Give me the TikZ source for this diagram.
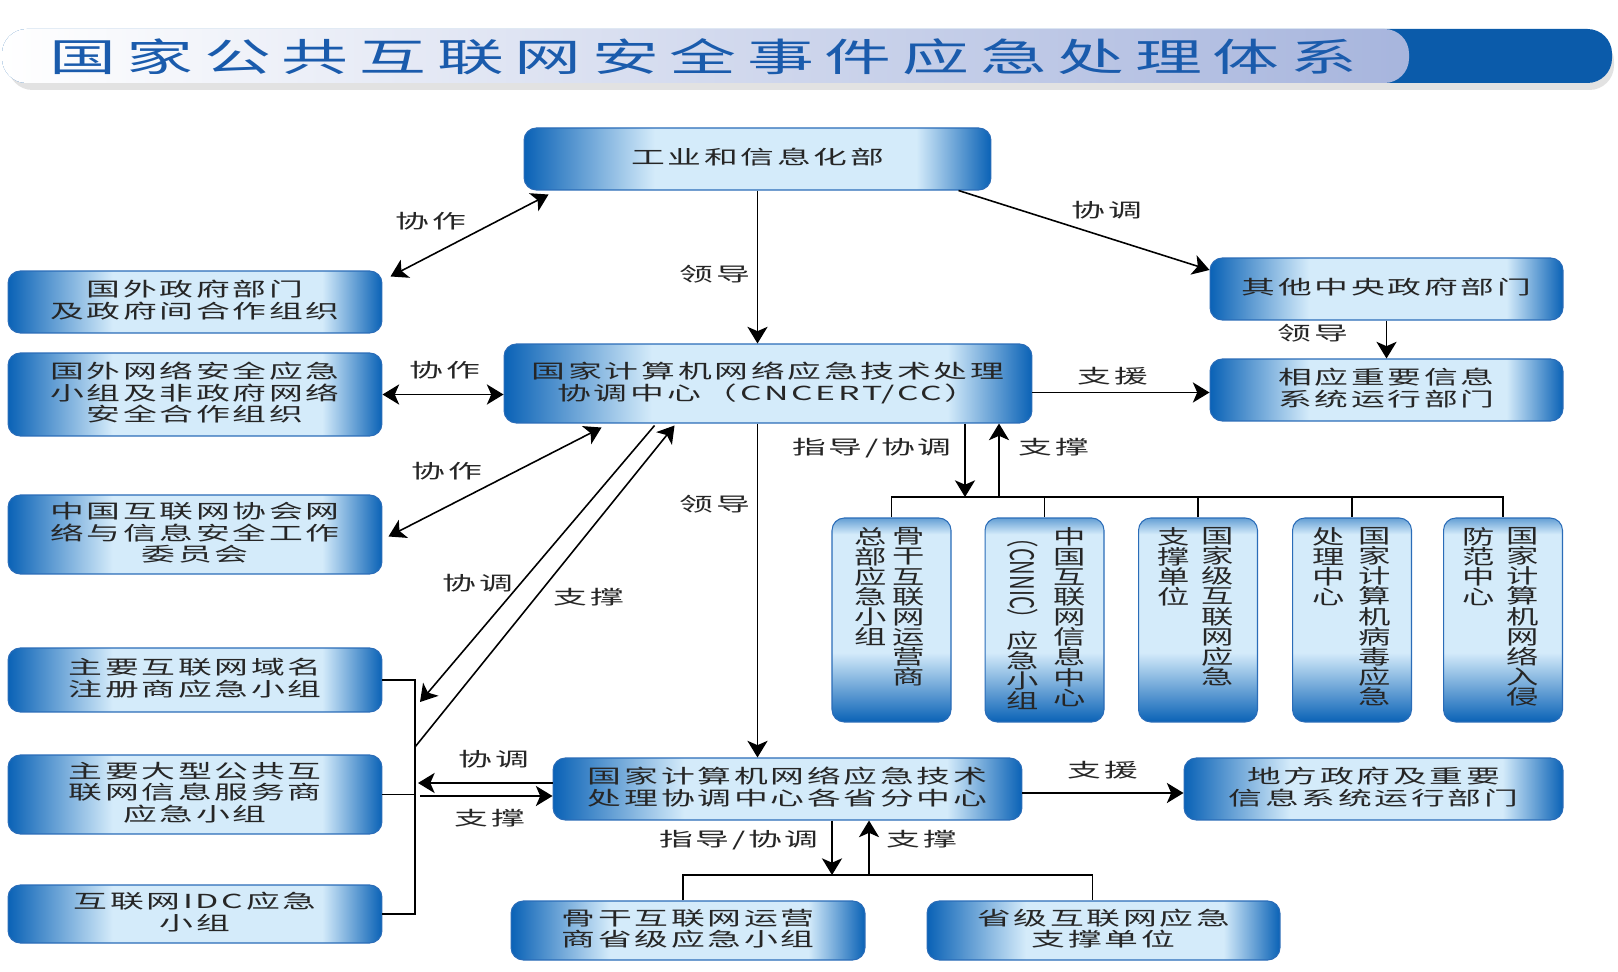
\documentclass[tikz,border=0pt]{standalone}
\usepackage{fontspec}
\usepackage{graphicx}
\setmainfont{Noto Sans CJK SC}[LetterSpace=8]
\newfontfamily\titlefont{Noto Sans CJK SC}[LetterSpace=16]
\newfontfamily\vfont{Noto Sans CJK SC}
\usetikzlibrary{positioning, arrows.meta, calc}
\definecolor{boxdark}{HTML}{0A62B6}
\definecolor{boxlight}{HTML}{D4EBFA}
\definecolor{boxline}{HTML}{2A6CB8}
\definecolor{titleblue}{HTML}{1A5BAC}
\definecolor{titlelav}{HTML}{A7B5DD}
\definecolor{titledark}{HTML}{0B5BAA}
\definecolor{txt}{HTML}{262626}
\pgfdeclarehorizontalshading{boxshade}{100bp}{color(0bp)=(boxdark); color(25bp)=(boxdark); color(39bp)=(boxlight); color(67bp)=(boxlight); color(75bp)=(boxdark); color(100bp)=(boxdark)}
\pgfdeclareverticalshading{tallshade}{100bp}{color(0bp)=(boxdark); color(25bp)=(boxdark); color(42bp)=(boxlight); color(71bp)=(boxlight); color(75bp)=(boxdark!55!boxlight); color(100bp)=(boxdark!55!boxlight)}
% wide text as in the picture
\newcommand\boxtext[1]{\scalebox{1.75}[1]{\begin{tabular}{@{}c@{}}#1\end{tabular}}}
\newcommand\coltext[1]{\scalebox{1.6}[1]{\vbox{\baselineskip=11.4pt\lineskiplimit=-20pt\lineskip=1pt\let\\\cr\halign{\hfil##\hfil\cr#1\crcr}}}}

\begin{document}
\begin{tikzpicture}[
  x=0.02cm, y=-0.02cm,
  box/.style={
    draw=boxline, line width=0.6pt, rounded corners=7pt, shade, shading=boxshade,
    align=center, text=txt, inner sep=0pt, font=\fontsize{11}{10}\selectfont
  },
  tallbox/.style={box, shading=tallshade, minimum width=2.38cm, minimum height=4.08cm},
  vcol/.style={font=\vfont\fontsize{11.5}{11.4}\selectfont, anchor=north, inner sep=0pt, text=txt},
  lab/.style={font=\fontsize{11}{10}\selectfont, text=txt, inner sep=1pt},
  arr/.style={-{Stealth[length=9.5pt, width=11.5pt, inset=2.5pt]}, line width=0.9pt},
  darr/.style={{Stealth[length=9.5pt, width=11.5pt, inset=2.5pt]}-{Stealth[length=9.5pt, width=11.5pt, inset=2.5pt]}, line width=0.9pt},
  thinl/.style={line width=0.8pt}
]
  \fill[white] (0,0) rectangle (1618,972);
  \useasboundingbox (0,0) rectangle (1618,972);

  % title bar
  \fill[gray!45, opacity=.5, rounded corners=14pt] (8,37) rectangle (1614,90);
  \fill[titledark, rounded corners=14pt] (2,29) rectangle (1612,83);
  \shade[left color=white, right color=titlelav, rounded corners=14pt] (2,29) rectangle (1409,83);
  \node[anchor=west, text=titleblue, inner sep=0pt, font=\titlefont\fontsize{22}{24}\selectfont] (title) at (49,57) {\scalebox{1.73}[1]{国家公共互联网安全事件应急处理体系}};

  % boxes
  \node[box, minimum width=9.34cm, minimum height=1.24cm] (mii) at (757.5,159) {\boxtext{工业和信息化部}};
  \node[box, minimum width=7.48cm, minimum height=1.24cm] (fgov) at (195,302) {\boxtext{国外政府部门\\及政府间合作组织}};
  \node[box, minimum width=7.06cm, minimum height=1.24cm] (ocgov) at (1386.5,289) {\boxtext{其他中央政府部门}};
  \node[box, minimum width=7.48cm, minimum height=1.66cm] (fcert) at (195,394.5) {\boxtext{国外网络安全应急\\小组及非政府网络\\安全合作组织}};
  \node[box, minimum width=10.56cm, minimum height=1.58cm] (cncert) at (768,383.5) {\boxtext{国家计算机网络应急技术处理\\协调中心（CNCERT/CC）}};
  \node[box, minimum width=7.06cm, minimum height=1.24cm] (rel) at (1386.5,390) {\boxtext{相应重要信息\\系统运行部门}};
  \node[box, minimum width=7.48cm, minimum height=1.58cm] (isc) at (195,534.5) {\boxtext{中国互联网协会网\\络与信息安全工作\\委员会}};
  \node[box, minimum width=7.48cm, minimum height=1.28cm] (dns) at (195,680) {\boxtext{主要互联网域名\\注册商应急小组}};
  \node[box, minimum width=7.48cm, minimum height=1.58cm] (isp) at (195,794.5) {\boxtext{主要大型公共互\\联网信息服务商\\应急小组}};
  \node[box, minimum width=7.48cm, minimum height=1.16cm] (idc) at (195,914) {\boxtext{互联网IDC应急\\小组}};
  \node[box, minimum width=9.38cm, minimum height=1.24cm] (prov) at (787.5,789) {\boxtext{国家计算机网络应急技术\\处理协调中心各省分中心}};
  \node[box, minimum width=7.58cm, minimum height=1.24cm] (local) at (1373.5,789) {\boxtext{地方政府及重要\\信息系统运行部门}};
  \node[box, minimum width=7.08cm, minimum height=1.18cm] (bb) at (688,930.5) {\boxtext{骨干互联网运营\\商省级应急小组}};
  \node[box, minimum width=7.06cm, minimum height=1.18cm] (pisp) at (1103.5,930.5) {\boxtext{省级互联网应急\\支撑单位}};

  % tall boxes, text in columns
  \node[tallbox] (v1) at (891.5,620) {};
  \node[tallbox] (v2) at (1044.5,620) {};
  \node[tallbox] (v3) at (1198,620) {};
  \node[tallbox] (v4) at (1352,620) {};
  \node[tallbox] (v5) at (1503,620) {};
  \node[vcol] (v1r) at ($(v1.north)+(17,10)$) {\coltext{骨\\干\\互\\联\\网\\运\\营\\商}};
  \node[vcol] (v1l) at ($(v1.north)+(-21,10)$) {\coltext{总\\部\\应\\急\\小\\组}};
  \node[vcol] (v2r) at ($(v2.north)+(25,10)$) {\coltext{中\\国\\互\\联\\网\\信\\息\\中\\心}};
  \node[vcol] (v2l) at ($(v2.north)+(-22,10)$) {\coltext{\rotatebox{-90}{（CNNIC）}\\应\\急\\小\\组}};
  \node[vcol] (v3r) at ($(v3.north)+(20,10)$) {\coltext{国\\家\\级\\互\\联\\网\\应\\急}};
  \node[vcol] (v3l) at ($(v3.north)+(-24,10)$) {\coltext{支\\撑\\单\\位}};
  \node[vcol] (v4r) at ($(v4.north)+(23,10)$) {\coltext{国\\家\\计\\算\\机\\病\\毒\\应\\急}};
  \node[vcol] (v4l) at ($(v4.north)+(-23,10)$) {\coltext{处\\理\\中\\心}};
  \node[vcol] (v5r) at ($(v5.north)+(20,10)$) {\coltext{国\\家\\计\\算\\机\\网\\络\\入\\侵}};
  \node[vcol] (v5l) at ($(v5.north)+(-24,10)$) {\coltext{防\\范\\中\\心}};

  % connectors
  \draw[arr] (mii.south) -- (mii.south |- cncert.north);
  \draw[arr] (mii.south |- cncert.south) -- (mii.south |- prov.north);
  \draw[darr] ($(mii.south west)+(25,4)$) -- ($(fgov.north east)+(8,6)$);
  \draw[arr] ($(mii.south east)+(-33,0)$) -- ($(ocgov.west)+(0,-19)$);
  \draw[arr] (ocgov.south) -- (rel.north);
  \draw[arr] ($(cncert.east)+(0,9)$) -- ($(rel.west)+(0,2.5)$);
  \draw[darr] (fcert.east) -- (fcert.east -| cncert.west);
  \draw[darr] ($(cncert.south west)+(98,4)$) -- ($(isc.east)+(6,2)$);

  \coordinate (busA) at (965,497);
  \coordinate (busB) at (999,497);
  \draw[arr] (cncert.south -| busA) -- (busA);
  \draw[arr] (busB) -- (cncert.south -| busB);
  \draw[thinl] (v1.north) |- (busA) -| (v5.north);
  \foreach \i in {2,3,4} \draw[thinl] (v\i.north) -- (v\i.north |- busA);

  \coordinate (brx) at (415,0);
  \draw[thinl] (dns.east) -- (dns.east -| brx) -- (idc.east -| brx) -- (idc.east);
  \draw[thinl] (isp.east) -- (isp.east -| brx);
  \draw[arr] ($(cncert.south west)+(151,2)$) -- ($(dns.east -| brx)+(5,22)$);
  \draw[arr] ($(dns.east -| brx)+(0,67)$) -- ($(cncert.south west)+(171,2)$);
  \draw[arr] ($(prov.west)+(0,-6)$) -- ($(prov.west -| brx)+(3,-6)$);
  \draw[arr] ($(prov.west -| brx)+(5,7)$) -- ($(prov.west)+(0,7)$);
  \draw[arr] ($(prov.east)+(0,4)$) -- ($(local.west)+(0,4)$);

  \coordinate (busC) at (832,875);
  \coordinate (busD) at (869,875);
  \draw[arr] (prov.south -| busC) -- (busC);
  \draw[arr] (busD) -- (prov.south -| busD);
  \draw[thinl] ($(bb.north)+(-5,0)$) |- (busC) -| ($(pisp.north)+(-11,0)$);

  % labels
  \node[lab] (lLead1) at (715,276) {\boxtext{领导}};
  \node[lab] (lCoop1) at (431,223) {\boxtext{协作}};
  \node[lab] (lCoor1) at (1107,212) {\boxtext{协调}};
  \node[lab] (lLead2) at (1313,335) {\boxtext{领导}};
  \node[lab] (lAid1) at (1113,378) {\boxtext{支援}};
  \node[lab] (lCoop2) at (445,372) {\boxtext{协作}};
  \node[lab] (lGuide1) at (872,449) {\boxtext{指导/协调}};
  \node[lab] (lSup1) at (1054,449) {\boxtext{支撑}};
  \node[lab] (lLead3) at (715,506) {\boxtext{领导}};
  \node[lab] (lCoop3) at (447,473) {\boxtext{协作}};
  \node[lab] (lCoor2) at (478,585) {\boxtext{协调}};
  \node[lab] (lSup2) at (589,599) {\boxtext{支撑}};
  \node[lab] (lCoor3) at (494,761) {\boxtext{协调}};
  \node[lab] (lSup3) at (490,820) {\boxtext{支撑}};
  \node[lab] (lAid2) at (1103,772) {\boxtext{支援}};
  \node[lab] (lGuide2) at (739,841) {\boxtext{指导/协调}};
  \node[lab] (lSup4) at (922,841) {\boxtext{支撑}};
\end{tikzpicture}
\end{document}
